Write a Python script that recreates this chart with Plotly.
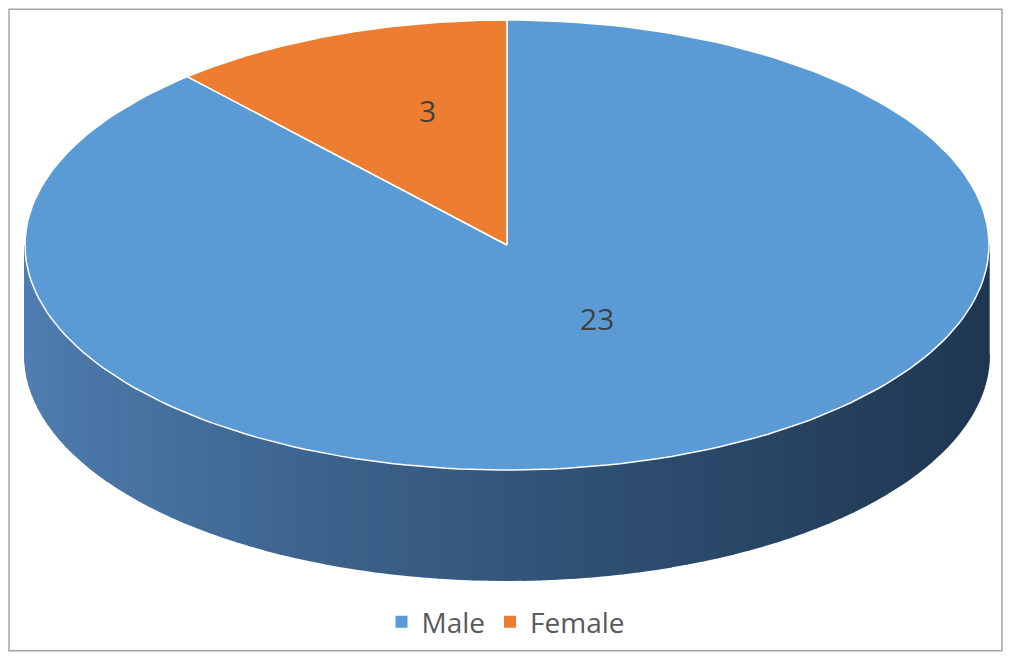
import numpy as np
import plotly.graph_objects as go

labels = ["Male", "Female"]
values = [23, 3]
colors = ["#5b9bd5", "#ed7d31"]

# ellipse geometry in pixel space of the reference
cx, cy, rx, ry, depth = 507, 245, 482, 225, 110
W, H = 1011, 660
off = 8  # page body margin


def pt(t):
    return cx + rx * np.sin(t), cy - ry * np.cos(t)


fig = go.Figure()

# side band (front half), drawn as strips to fake a gradient
n = 90
ts = np.linspace(np.pi / 2, 3 * np.pi / 2, n + 1)
light = np.array([0x50, 0x7f, 0xb3])
dark = np.array([0x1f, 0x38, 0x52])
for i in range(n):
    seg = np.linspace(ts[i], ts[i + 1], 4)
    x, y = pt(seg)
    xs = list(x) + list(x[::-1])
    ys = list(y) + list((y + depth)[::-1])
    f = (1 - (cx - x.mean()) / rx) / 2
    c = light + (dark - light) * f ** 0.8
    col = "rgb(%d,%d,%d)" % tuple(c)
    fig.add_trace(go.Scatter(x=xs, y=ys, fill="toself", mode="lines",
                             fillcolor=col, line=dict(color=col, width=2),
                             showlegend=False, hoverinfo="skip"))

# top face slices, starting at 12 o'clock, clockwise
total = sum(values)
start = 0.0
for lab, v, c in zip(labels, values, colors):
    end = start + 2 * np.pi * v / total
    seg = np.linspace(start, end, 200)
    x, y = pt(seg)
    xs = [cx] + list(x) + [cx]
    ys = [cy] + list(y) + [cy]
    fig.add_trace(go.Scatter(x=xs, y=ys, fill="toself", mode="lines",
                             fillcolor=c, line=dict(color="white", width=1.5),
                             showlegend=False, name=lab, hoverinfo="name"))
    mid = (start + end) / 2
    if v > total / 2:
        lx, ly = cx + 90, cy + 73
    else:
        lx = cx + rx * 0.62 * np.sin(mid) * 0.75
        ly = cy - ry * 0.58 * np.cos(mid) - 12
    fig.add_annotation(x=lx, y=ly, text=str(v), showarrow=False,
                       font=dict(size=30, color="#404040"))
    start = end

for lab, c in zip(labels, colors):
    fig.add_trace(go.Scatter(x=[None], y=[None], mode="markers", name=lab,
                             marker=dict(symbol="square", size=12, color=c)))

fig.update_layout(
    width=W - 2 * off, height=H - 2 * off, margin=dict(l=0, r=0, t=0, b=0),
    plot_bgcolor="white", paper_bgcolor="white",
    font=dict(family="Open Sans, Noto Sans, sans-serif"),
    xaxis=dict(range=[off, W - off], visible=False, fixedrange=True),
    yaxis=dict(range=[H - off, off], visible=False, fixedrange=True),
    legend=dict(orientation="h", x=0.5, xanchor="center",
                y=1 - (622 - off) / (H - 2 * off),
                yanchor="middle", font=dict(size=28, color="#595959"),
                itemwidth=30),
    shapes=[dict(type="rect", xref="paper", yref="paper", x0=0.001, y0=0.002,
                 x1=0.999, y1=0.998, line=dict(color="#a6a6a6", width=1.5))],
)

fig.write_html("out.html")
